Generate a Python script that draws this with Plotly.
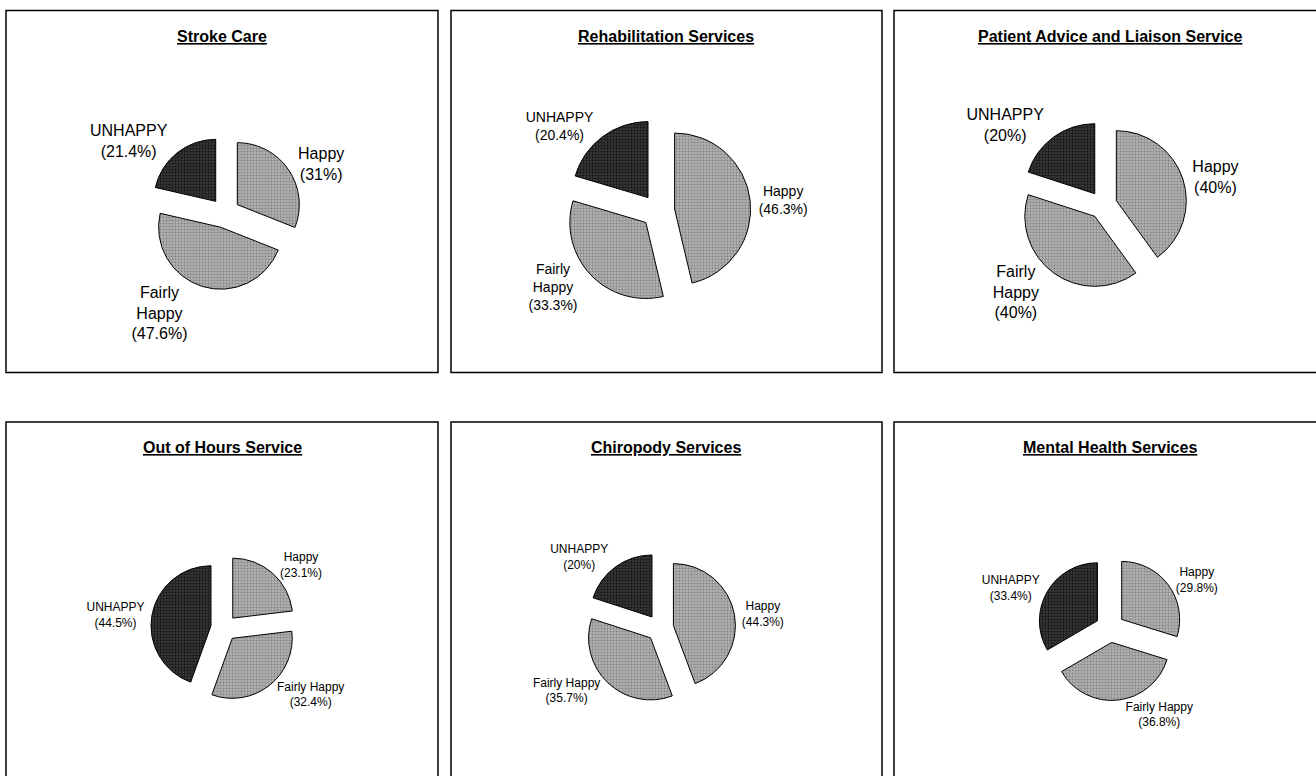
import plotly.graph_objects as go

# ---------------- data ----------------
titles = ["Stroke Care", "Rehabilitation Services", "Patient Advice and Liaison Service",
          "Out of Hours Service", "Chiropody Services", "Mental Health Services"]
categories = ["Happy", "Fairly Happy", "UNHAPPY"]
stroke_care = [31, 47.6, 21.4]
rehabilitation = [46.3, 33.3, 20.4]
patient_advice = [40, 40, 20]
out_of_hours = [23.1, 32.4, 44.5]
chiropody = [44.3, 35.7, 20]
mental_health = [29.8, 36.8, 33.4]
series = [stroke_care, rehabilitation, patient_advice, out_of_hours, chiropody, mental_health]

# ---------------- layout / style ----------------
W, H = 1316, 776
FONT = "Liberation Sans, Arial, sans-serif"
# panel rectangles (px): x0, y0, x1, y1
panels = [(6, 10.5, 438, 372.5), (451, 10.5, 882, 372.5), (894, 10.5, 1326, 372.5),
          (6, 422, 438, 790), (451, 422, 882, 790), (894, 422, 1326, 790)]
# pie centre (px), radius (px), pull, label size, wrap "Fairly Happy"
pies = [dict(c=(225, 213), r=62, pull=0.24, fs=16, wrap=True),
        dict(c=(658, 211), r=76, pull=0.22, fs=14, wrap=True),
        dict(c=(1103, 205), r=70, pull=0.2, fs=16, wrap=True),
        dict(c=(224, 628), r=60, pull=0.22, fs=12, wrap=False),
        dict(c=(660, 628), r=62, pull=0.22, fs=12, wrap=False),
        dict(c=(1110, 628), r=58, pull=0.25, fs=12, wrap=False)]

light_bg, light_fg = "#b0b0b0", "#828282"
dark_bg, dark_fg = "#353535", "#121212"

fig = go.Figure()
shapes = []
annotations = []

for i, (title, vals) in enumerate(zip(titles, series)):
    x0, y0, x1, y1 = panels[i]
    shapes.append(dict(type="rect", xref="paper", yref="paper",
                       x0=x0 / W, x1=x1 / W, y0=1 - y1 / H, y1=1 - y0 / H,
                       line=dict(color="black", width=1.5), fillcolor="rgba(0,0,0,0)",
                       layer="below"))
    annotations.append(dict(text=f"<b><u>{title}</u></b>", xref="paper", yref="paper",
                            x=(x0 + x1) / 2 / W, y=1 - (y0 + 26) / H,
                            showarrow=False, xanchor="center", yanchor="middle",
                            font=dict(family=FONT, size=16, color="black")))
    p = pies[i]
    cx, cy = p["c"]
    half = p["r"] * (1 + p["pull"])
    names = [c.replace("Fairly ", "Fairly<br>") if p["wrap"] else c for c in categories]
    text = [f"{n}<br>({v:g}%)" for n, v in zip(names, vals)]
    fig.add_trace(go.Pie(
        labels=categories, values=vals, text=text, textinfo="text",
        textposition="outside", sort=False, direction="clockwise", rotation=0,
        pull=[p["pull"]] * 3, showlegend=False, hoverinfo="label+percent",
        outsidetextfont=dict(family=FONT, size=p["fs"], color="black"),
        marker=dict(colors=[light_bg, light_bg, dark_bg],
                    line=dict(color="black", width=1),
                    pattern=dict(shape=".", fillmode="replace",
                                 bgcolor=[light_bg, light_bg, dark_bg],
                                 fgcolor=[light_fg, light_fg, dark_fg],
                                 size=3, solidity=0.3)),
        domain=dict(x=[(cx - half) / W, (cx + half) / W],
                    y=[1 - (cy + half) / H, 1 - (cy - half) / H]),
    ))

fig.update_layout(width=W, height=H, margin=dict(l=0, r=0, t=0, b=0),
                  paper_bgcolor="white", plot_bgcolor="white",
                  shapes=shapes, annotations=annotations,
                  font=dict(family=FONT, color="black"))
fig.write_html("out.html")
